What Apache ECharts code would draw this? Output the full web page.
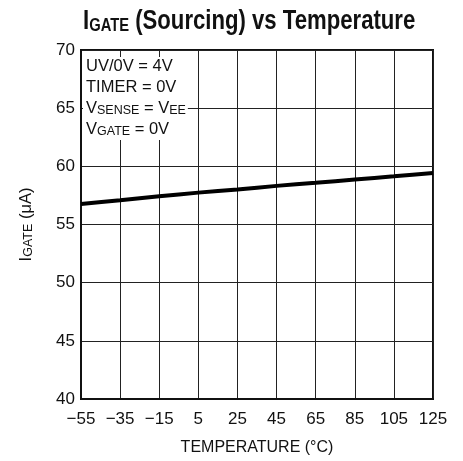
<!DOCTYPE html>
<html>
<head>
<meta charset="utf-8">
<script src="https://cdn.jsdelivr.net/npm/echarts@6/dist/echarts.min.js"></script>
<style>html,body{margin:0;padding:0;background:#fff;}#c{width:463px;height:461px;}</style>
</head>
<body>
<div id="c"></div>
<script>
const temperatures = [-55, -35, -15, 5, 25, 45, 65, 85, 105, 125];
const igateValues = [56.77, 57.08, 57.43, 57.74, 58.0, 58.32, 58.58, 58.86, 59.14, 59.43];
const xTickLabels = ['−55', '−35', '−15', '5', '25', '45', '65', '85', '105', '125'];
const yTickLabels = ['40', '45', '50', '55', '60', '65', '70'];
const conditions = ['{m|UV/0V = 4V}', '{m|TIMER = 0V}', '{m|V}{s|SENSE}{m| = V}{s|EE}', '{m|V}{s|GATE}{m| = 0V}'];
const titleText = '{m|I}{s|GATE}{m| (Sourcing) vs Temperature}';

const FF = "'Liberation Sans', Arial, sans-serif";
const chart = echarts.init(document.getElementById('c'), null, {renderer: 'canvas'});
chart.setOption({
  animation: false,
  backgroundColor: '#fff',
  title: [{
    text: conditions.join('\n'),
    left: 83, top: 53,
    padding: [1, 2, 2, 3],
    backgroundColor: '#fff',
    textStyle: {
      fontWeight: 'normal',
      rich: {
        m: {fontFamily: FF, fontSize: 16.5, fontWeight: 'normal', color: '#111', lineHeight: 21, verticalAlign: 'bottom'},
        s: {fontFamily: FF, fontSize: 12.5, fontWeight: 'normal', color: '#111', lineHeight: 15, verticalAlign: 'bottom'}
      }
    }
  }],
  graphic: [{
    type: 'text',
    x: 83, y: 3,
    scaleX: 0.82,
    silent: true,
    style: {
      text: titleText,
      rich: {
        m: {fontFamily: FF, fontSize: 27, fontWeight: 'bold', fill: '#111', lineHeight: 32, verticalAlign: 'bottom'},
        s: {fontFamily: FF, fontSize: 18, fontWeight: 'bold', fill: '#111', lineHeight: 24, verticalAlign: 'bottom'}
      }
    }
  }],
  grid: {left: 81, right: 30, top: 50, bottom: 60, show: true, borderColor: '#111', borderWidth: 2, containLabel: false},
  xAxis: {
    type: 'value', min: -55, max: 125, interval: 20,
    name: 'TEMPERATURE (°C)', nameLocation: 'middle', nameGap: 41,
    nameTextStyle: {fontFamily: FF, fontSize: 16, color: '#111'},
    axisLine: {show: true, onZero: false, lineStyle: {color: '#111', width: 2}},
    axisTick: {show: false},
    axisLabel: {fontFamily: FF, fontSize: 17, color: '#111', margin: 12,
      formatter: function (v) { return xTickLabels[temperatures.indexOf(v)] || String(v); }},
    splitLine: {show: true, lineStyle: {color: '#222', width: 1}}
  },
  yAxis: {
    type: 'value', min: 40, max: 70, interval: 5,
    name: '{m|I}{s|GATE}{m| (μA)}', nameLocation: 'middle', nameGap: 46,
    nameTextStyle: {
      rich: {
        m: {fontFamily: FF, fontSize: 16.5, color: '#111', lineHeight: 20, verticalAlign: 'bottom'},
        s: {fontFamily: FF, fontSize: 12.5, color: '#111', lineHeight: 15, verticalAlign: 'bottom'}
      }
    },
    axisLine: {show: true, onZero: false, lineStyle: {color: '#111', width: 2}},
    axisTick: {show: false},
    axisLabel: {fontFamily: FF, fontSize: 17, color: '#111', margin: 6,
      formatter: function (v) { const i = yTickLabels.indexOf(String(v)); return i >= 0 ? yTickLabels[i] : String(v); }},
    splitLine: {show: true, lineStyle: {color: '#222', width: 1}}
  },
  series: [{
    type: 'line',
    data: temperatures.map((t, i) => [t, igateValues[i]]),
    showSymbol: false,
    smooth: 0.2,
    lineStyle: {color: '#000', width: 4},
    z: 3
  }]
});
</script>
</body>
</html>
